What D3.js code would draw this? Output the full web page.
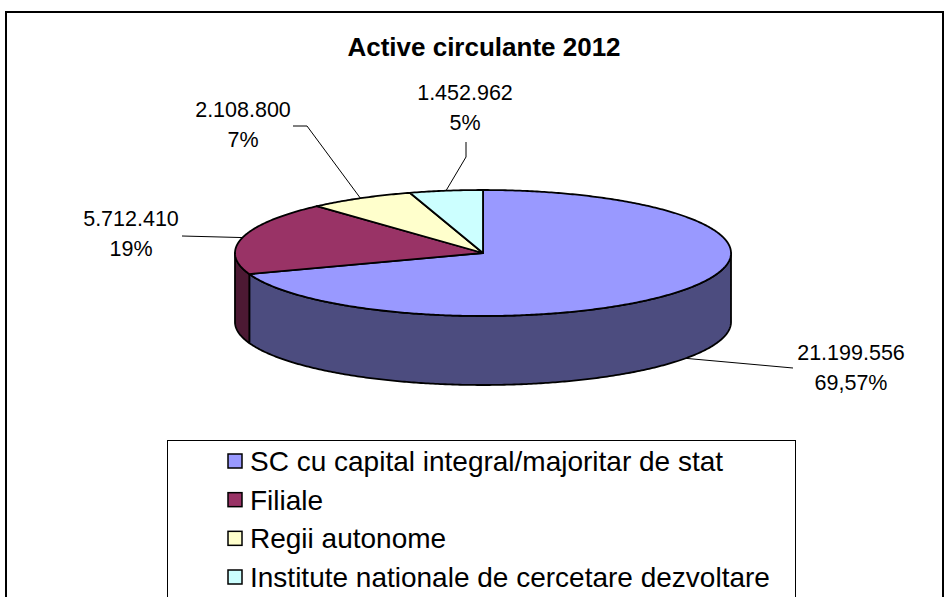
<!DOCTYPE html>
<html>
<head>
<meta charset="utf-8">
<script src="https://cdn.jsdelivr.net/npm/d3@7"></script>
<style>
  body { margin: 0; background: #fff; }
  svg { display: block; font-family: Arial, "Liberation Sans", sans-serif; }
</style>
</head>
<body>
<svg id="chart" width="945" height="597"></svg>
<script>
// data
const categories = [
  'SC cu capital integral/majoritar de stat',
  'Filiale',
  'Regii autonome',
  'Institute nationale de cercetare dezvoltare'
];
const values = [21199556, 5712410, 2108800, 1452962];
const percentLabels = ['69,57%', '19%', '7%', '5%'];

// styles
const topColors = ['#9999ff', '#993366', '#ffffcc', '#ccffff'];
const sideColors = ['#4c4c7f', '#4c1933', '#7f7f66', '#667f7f'];

// label layout (centre of first text line) and leader bends, label -> pie
const labelPos = [[851, 352], [131, 218], [243, 109], [465, 92]];
const leaderBends = [
  [[793, 368]],
  [[182, 236]],
  [[293, 126], [307, 126]],
  [[466, 142], [466, 157]]
];

const ro = d3.formatLocale({decimal: ',', thousands: '.', grouping: [3], currency: ['', '']});
const fmtValue = ro.format(',d');

const svg = d3.select('#chart');

// outer frame
svg.append('rect')
  .attr('x', 6).attr('y', 12)
  .attr('width', 937).attr('height', 620)
  .attr('fill', 'none')
  .attr('stroke', '#000')
  .attr('stroke-width', 2);

// title
svg.append('text')
  .attr('x', 484).attr('y', 56)
  .attr('text-anchor', 'middle')
  .attr('font-size', '26px')
  .attr('font-weight', 'bold')
  .text('Active circulante 2012');

// 3D pie geometry
const cx = 483, cy = 253, rx = 248, ry = 63, depth = 69;
const pie = d3.pie().sort(null).startAngle(0).endAngle(2 * Math.PI);
const arcs = pie(values);

const pt = (a, dy) => [cx + rx * Math.sin(a), cy - ry * Math.cos(a) + dy];
function ellArc(a0, a1, dy) {
  const n = Math.max(2, Math.ceil(Math.abs(a1 - a0) / 0.01));
  return d3.range(n + 1).map(i => pt(a0 + (a1 - a0) * i / n, dy));
}
const line = d3.line().curve(d3.curveLinearClosed);

// side walls (front half only)
const sides = svg.append('g');
arcs.forEach((d, i) => {
  const s = Math.max(d.startAngle, Math.PI / 2);
  const e = Math.min(d.endAngle, 3 * Math.PI / 2);
  if (s >= e) return;
  const pts = ellArc(s, e, 0).concat(ellArc(e, s, depth));
  sides.append('path')
    .attr('d', line(pts))
    .attr('fill', sideColors[i])
    .attr('stroke', '#000')
    .attr('stroke-width', 1.8)
    .attr('stroke-linejoin', 'round');
});

// top faces
const tops = svg.append('g');
arcs.forEach((d, i) => {
  const pts = [[cx, cy]].concat(ellArc(d.startAngle, d.endAngle, 0));
  tops.append('path')
    .attr('d', line(pts))
    .attr('fill', topColors[i])
    .attr('stroke', '#000')
    .attr('stroke-width', 1.8)
    .attr('stroke-linejoin', 'round');
});

// leader lines
const lead = d3.line();
arcs.forEach((d, i) => {
  const mid = (d.startAngle + d.endAngle) / 2;
  const front = Math.cos(mid) < 0;
  const p = pt(mid, front ? depth : 0);
  svg.append('path')
    .attr('d', lead(leaderBends[i].concat([p])))
    .attr('fill', 'none')
    .attr('stroke', '#000')
    .attr('stroke-width', 1);
});

// data labels
arcs.forEach((d, i) => {
  const [lx, ly] = labelPos[i];
  const t = svg.append('text')
    .attr('text-anchor', 'middle')
    .attr('font-size', '21.5px')
    .attr('fill', '#000');
  t.append('tspan').attr('x', lx).attr('y', ly + 8).text(fmtValue(d.data));
  t.append('tspan').attr('x', lx).attr('y', ly + 38).text(percentLabels[i]);
});

// legend
svg.append('rect')
  .attr('x', 167.5).attr('y', 440.5)
  .attr('width', 628).attr('height', 200)
  .attr('fill', '#fff')
  .attr('stroke', '#000')
  .attr('stroke-width', 1);

const rowY = d3.scalePoint().domain(d3.range(categories.length)).range([461, 577]);
const legend = svg.append('g')
  .selectAll('g')
  .data(categories)
  .join('g')
  .attr('transform', (d, i) => `translate(0,${rowY(i)})`);

legend.append('rect')
  .attr('x', 228).attr('y', -7)
  .attr('width', 14).attr('height', 14)
  .attr('fill', (d, i) => topColors[i])
  .attr('stroke', '#000')
  .attr('stroke-width', 1.5);

legend.append('text')
  .attr('x', 250).attr('y', 10)
  .attr('font-size', '28px')
  .attr('fill', '#000')
  .text(d => d);
</script>
</body>
</html>
